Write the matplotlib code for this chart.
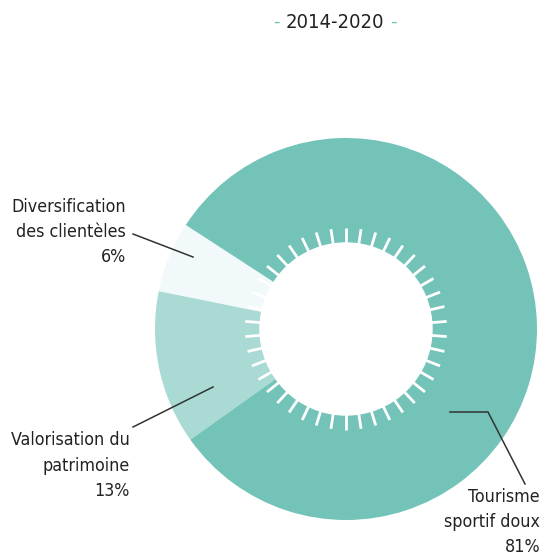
import numpy as np
import matplotlib
matplotlib.use("Agg")
import matplotlib.pyplot as plt

# Data
categories = ["Diversification\ndes clientèles", "Valorisation du\npatrimoine", "Tourisme\nsportif doux"]
values = [6, 13, 81]
title = "2014-2020"
colors = ["#f2f9fa", "#a9dad4", "#74c3b9"]

W, H = 545, 558
fig = plt.figure(figsize=(W / 100, H / 100), dpi=100)
ax = fig.add_axes([0, 0, 1, 1])

def Y(y):
    return H - y

cx, cy, R = 346, Y(329), 191
r_in = 86

ax.pie(values, colors=colors, startangle=147, counterclock=True,
       center=(cx, cy), radius=R, frame=True,
       wedgeprops=dict(linewidth=0))
ax.set_xlim(0, W)
ax.set_ylim(0, H)
ax.set_aspect("equal")
ax.axis("off")

# inner white circle
ax.add_patch(plt.Circle((cx, cy), r_in, color="white", zorder=3))
# radial ticks
n_ticks = 42
for k in range(n_ticks):
    a = np.deg2rad(90 + k * 360 / n_ticks)
    ax.plot([cx + (r_in - 2) * np.cos(a), cx + (r_in + 15) * np.cos(a)],
            [cy + (r_in - 2) * np.sin(a), cy + (r_in + 15) * np.sin(a)],
            color="white", lw=2.0, solid_capstyle="butt", zorder=3)

font = dict(family="DejaVu Sans", stretch="condensed", color="#222222", fontsize=12.8)

pcts = [f"{v}%" for v in values]
# labels
ax.text(126, Y(198), f"{categories[0]}\n{pcts[0]}", ha="right", va="top",
        linespacing=1.5, **font)
ax.text(130, Y(431), f"{categories[1]}\n{pcts[1]}", ha="right", va="top",
        linespacing=1.55, **font)
ax.text(540, Y(488), f"{categories[2]}\n{pcts[2]}", ha="right", va="top",
        linespacing=1.5, **font)

# leader lines
lc = dict(color="#333333", lw=1.1, zorder=4)
ax.plot([133, 193], [Y(234), Y(257)], **lc)
ax.plot([133, 213], [Y(427), Y(387)], **lc)
ax.plot([450, 488, 525], [Y(412), Y(412), Y(484)], **lc)

# title
ax.text(335, Y(22), title, ha="center", va="center", fontsize=14.5, family="DejaVu Sans",
        stretch="condensed", color="#222222")
ax.text(276, Y(22), "-", ha="center", va="center", fontsize=13, color="#74c3b9")
ax.text(393, Y(22), "-", ha="center", va="center", fontsize=13, color="#74c3b9")

fig.savefig("out.png", dpi=100)
